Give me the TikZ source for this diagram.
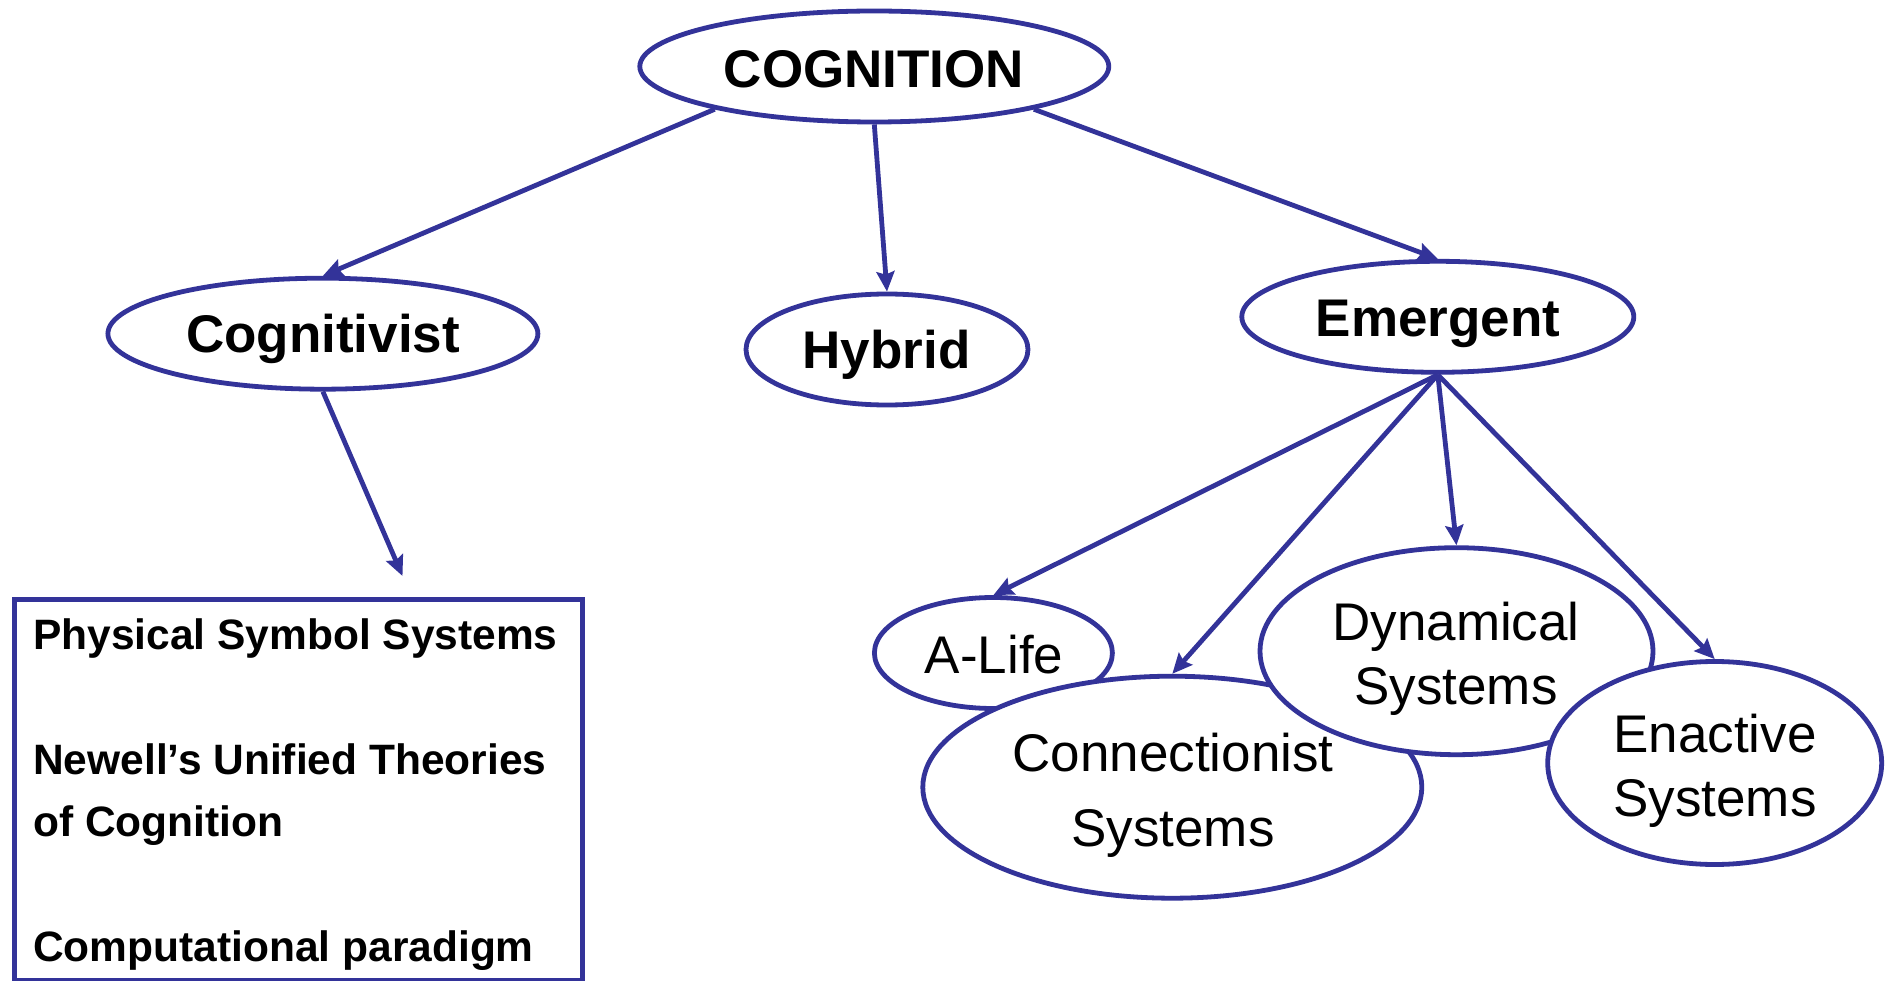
\documentclass[tikz,border=0pt]{standalone}
\usepackage{fontspec}
\setmainfont{Liberation Sans}
\usetikzlibrary{shapes.geometric,arrows.meta}
\definecolor{ink}{RGB}{51,51,153}
\begin{document}
\begin{tikzpicture}[x=1pt,y=-1pt,
  ell/.style={ellipse, draw=ink, line width=4.8pt, fill=white, inner sep=0pt},
  lbl/.style={inner sep=0pt, anchor=base, text=black},
  bigb/.style={font=\fontsize{53}{64}\selectfont\bfseries},
  bigr/.style={font=\fontsize{53}{64}\selectfont},
  arr/.style={draw=ink, line width=4.8pt, -{Stealth[length=20pt,width=18pt,inset=3pt]}}]
\useasboundingbox (0,0) rectangle (1896,981);
% ellipses
\node[ell, minimum width=469pt, minimum height=111pt] (cog) at (874.3,66.5) {};
\node[ell, minimum width=430pt, minimum height=111pt] (cogn) at (322.9,333.7) {};
\node[ell, minimum width=282pt, minimum height=111pt] (hyb) at (887,349.5) {};
\node[ell, minimum width=392pt, minimum height=111pt] (emg) at (1437.8,316.8) {};
\node[ell, minimum width=238pt, minimum height=111pt] (alife) at (993.4,653) {};
\node[ell, minimum width=499pt, minimum height=222pt] (conn) at (1172.3,787.2) {};
\node[ell, minimum width=393pt, minimum height=207pt] (dyn) at (1456.5,651.2) {};
\node[ell, minimum width=334pt, minimum height=203pt] (ena) at (1714.7,763) {};
% box
\node[draw=ink, line width=5pt, inner sep=0pt, minimum width=568pt, minimum height=381pt, anchor=north west] (box) at (12,597) {};
\coordinate (boxtip) at (402.5,576);
% labels
\node[lbl, bigb] (cogt) at (874,88) {COGNITION};
\node[lbl, bigb] (cognt) at (323,353) {Cognitivist};
\node[lbl, bigb] (hybt) at (886.5,369) {Hybrid};
\node[lbl, bigb] (emgt) at (1438,337) {Emergent};
\node[lbl, bigr] (alifet) at (994,673) {A-Life};
\node[lbl, font=\fontsize{53}{75}\selectfont] (connt) at (1173,771.5) {\begin{tabular}[t]{@{}c@{}}Connectionist\\Systems\end{tabular}};
\node[lbl, bigr] (dynt) at (1456,640.5) {\begin{tabular}[t]{@{}c@{}}Dynamical\\Systems\end{tabular}};
\node[lbl, bigr] (enat) at (1715,752) {\begin{tabular}[t]{@{}c@{}}Enactive\\Systems\end{tabular}};
\node[inner sep=0pt, anchor=base west, font=\fontsize{42.5}{62.5}\selectfont\bfseries] (boxt) at (33,649)
  {\begin{tabular}[t]{@{}l@{}}Physical Symbol Systems\\[62.5pt]Newell’s Unified Theories\\of Cognition\\[62.5pt]Computational paradigm\end{tabular}};
% connectors
\draw[arr] (cog.195) -- (cogn.north);
\draw[arr] (cog.south) -- (hyb.north);
\draw[arr] (cog.-15) -- (emg.north);
\draw[arr] (cogn.south) -- (boxtip);
\draw[arr] (emg.south) -- (alife.north);
\draw[arr] (emg.south) -- (conn.north);
\draw[arr] (emg.south) -- (dyn.north);
\draw[arr] (emg.south) -- (ena.north);
\end{tikzpicture}
\end{document}
